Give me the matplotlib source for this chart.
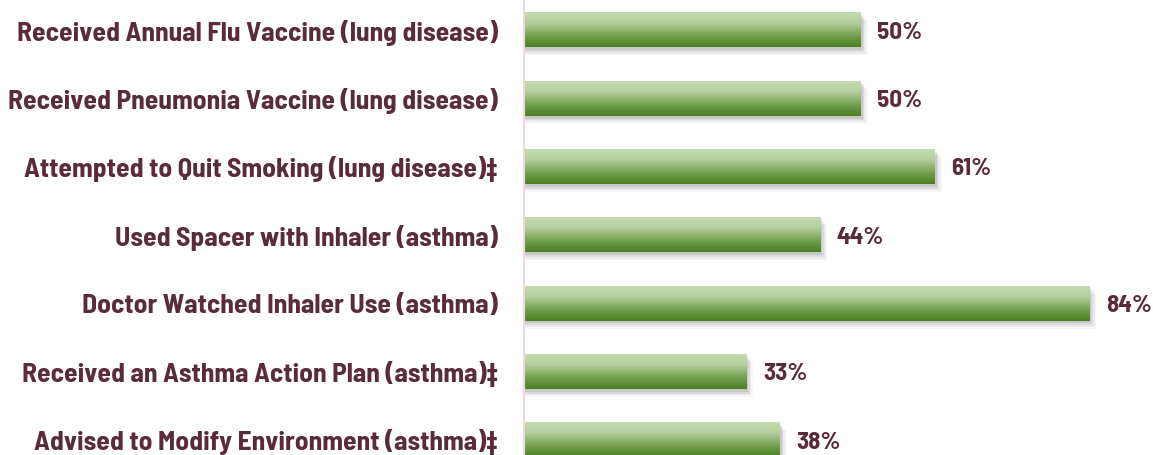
import matplotlib
matplotlib.use("Agg")
import matplotlib.pyplot as plt
import numpy as np
from matplotlib.colors import LinearSegmentedColormap

categories = [
    "Received Annual Flu Vaccine (lung disease)",
    "Received Pneumonia Vaccine (lung disease)",
    "Attempted to Quit Smoking (lung disease)\u2021",
    "Used Spacer with Inhaler (asthma)",
    "Doctor Watched Inhaler Use (asthma)",
    "Received an Asthma Action Plan (asthma)\u2021",
    "Advised to Modify Environment (asthma)\u2021",
]
values = [50, 50, 61, 44, 84, 33, 38]
value_labels = ["50%", "50%", "61%", "44%", "84%", "33%", "38%"]

plt.rcParams["font.family"] = ["Barlow Semi Condensed", "DejaVu Sans"]

TEXT = "#5a2b3b"
green = LinearSegmentedColormap.from_list(
    "bar", [(0.0, "#c3dcaf"), (0.3, "#b4cf9d"), (0.7, "#719d4b"), (1.0, "#4b7f22")])

fig = plt.figure(figsize=(11.53, 4.55), dpi=100)
ax = fig.add_axes([524 / 1153, 0, 629 / 1153, 1])

h = 0.51
grad = np.linspace(0, 1, 64).reshape(-1, 1)
for i, v in enumerate(values):
    # soft shadow under the bar
    for k, a in enumerate([0.13, 0.09, 0.06, 0.04]):
        dx = 0.3 + 0.25 * k
        dy = 0.04 + 0.025 * k
        ax.add_patch(plt.Rectangle((0, i - h / 2 + dy), v + dx, h, color="#404040",
                                   alpha=a, lw=0, zorder=1))
    ax.imshow(grad, cmap=green, aspect="auto", origin="upper",
              extent=[0, v, i + h / 2, i - h / 2], zorder=2, interpolation="bilinear")
    ax.annotate(value_labels[i], (v, i), xytext=(12, -2), textcoords="offset points",
                ha="left", va="center", fontsize=18, fontweight="bold", color=TEXT)

ax.set_xlim(0, 629 / 6.73)
ax.set_ylim(6.22, -0.44)
ax.set_yticks(range(len(categories)))
ax.set_yticklabels(categories, fontsize=19.8, fontweight="bold", color=TEXT)
ax.tick_params(axis="y", length=0, pad=19)
ax.set_xticks([])
for s in ["top", "right", "bottom"]:
    ax.spines[s].set_visible(False)
ax.spines["left"].set_color("#f0d6df")
ax.spines["left"].set_linewidth(1.5)

fig.savefig("out.png", dpi=100)
